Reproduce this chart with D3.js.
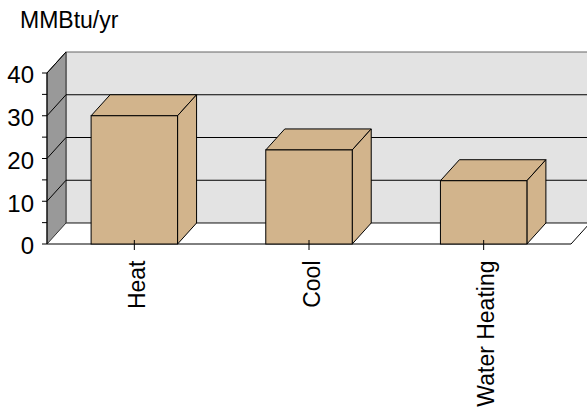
<!DOCTYPE html>
<html>
<head>
<meta charset="utf-8">
<script src="https://cdn.jsdelivr.net/npm/d3@7"></script>
<style>
body { margin: 0; background: #fff; }
svg { display: block; }
text { font-family: "Liberation Sans", Arial, sans-serif; fill: #000; }
</style>
</head>
<body>
<div id="chart"></div>
<script>
const categories = ['Heat', 'Cool', 'Water Heating'];
const values = [30, 22, 14.8];
const yTicks = [0, 10, 20, 30, 40];
const yMinorTicks = [5, 15, 25, 35];
const yLabel = 'MMBtu/yr';

const width = 587, height = 409;
// front plane of the chart and the 3d depth offset
const plotLeft = 47, plotRight = 571, plotBottom = 244, plotTop = 73;
const dx = 19, dy = -21;

const svg = d3.select('#chart').append('svg')
    .attr('width', width)
    .attr('height', height);

const y = d3.scaleLinear().domain([0, 40]).range([plotBottom, plotTop]);
const x = d3.scaleBand().domain(categories).range([plotLeft, plotRight]).paddingInner(0.505).paddingOuter(0.2525);

function poly(points, fill, stroke) {
  return svg.append('path')
      .attr('d', d3.line()(points) + 'Z')
      .style('fill', fill)
      .style('stroke', stroke || '#000')
      .style('stroke-width', 1);
}

// back wall
svg.append('rect')
    .attr('x', plotLeft + dx).attr('y', y(40) + dy)
    .attr('width', width - plotLeft - dx + 2).attr('height', y(0) - y(40))
    .style('fill', '#e3e3e3').style('stroke', '#666');

// floor
poly([[plotLeft, plotBottom], [plotLeft + dx, plotBottom + dy], [width + 2, plotBottom + dy], [plotRight, plotBottom]], '#fff', 'none');
svg.append('line')
    .attr('x1', plotLeft + dx).attr('x2', width + 2)
    .attr('y1', plotBottom + dy).attr('y2', plotBottom + dy)
    .style('stroke', '#666').style('stroke-width', 1.5);
svg.append('path')
    .attr('d', d3.line()([[plotLeft, plotBottom], [plotRight, plotBottom], [plotRight + dx, plotBottom + dy]]))
    .style('fill', 'none').style('stroke', '#000');

// side wall
poly([[plotLeft, plotBottom], [plotLeft, y(40)], [plotLeft + dx, y(40) + dy], [plotLeft + dx, plotBottom + dy]], '#999', '#333');

// gridlines, across the back wall and down the side wall
yTicks.slice(1, -1).forEach(t => {
  svg.append('path')
      .attr('d', d3.line()([[plotLeft, y(t)], [plotLeft + dx, y(t) + dy], [width + 2, y(t) + dy]]))
      .style('fill', 'none')
      .style('stroke', '#000');
});
svg.append('line')
    .attr('x1', plotLeft).attr('x2', plotLeft + dx)
    .attr('y1', y(40)).attr('y2', y(40) + dy)
    .style('stroke', '#000');

// bars
categories.forEach((c, i) => {
  const x0 = x(c), x1 = x0 + x.bandwidth(), yv = y(values[i]);
  poly([[x0, yv], [x0 + dx, yv + dy], [x1 + dx, yv + dy], [x1, yv]], '#d2b48c');
  poly([[x1, yv], [x1 + dx, yv + dy], [x1 + dx, plotBottom + dy], [x1, plotBottom]], '#d2b48c');
  svg.append('rect')
      .attr('x', x0).attr('y', yv)
      .attr('width', x.bandwidth()).attr('height', plotBottom - yv)
      .style('fill', '#d2b48c')
      .style('stroke', '#000');
});

// y axis
svg.append('line')
    .attr('x1', plotLeft).attr('x2', plotLeft)
    .attr('y1', y(0)).attr('y2', y(40))
    .style('stroke', '#000');
yTicks.concat(yMinorTicks).forEach(t => {
  svg.append('line')
      .attr('x1', plotLeft - 5).attr('x2', plotLeft)
      .attr('y1', y(t)).attr('y2', y(t))
      .style('stroke', '#000');
});
svg.selectAll('.ytick')
    .data(yTicks)
    .enter().append('text')
    .attr('class', 'ytick')
    .attr('x', 34)
    .attr('y', d => y(d) + 2)
    .attr('dy', '0.35em')
    .attr('text-anchor', 'end')
    .style('font-size', '24px')
    .text(d => d);

// category ticks and labels
categories.forEach(c => {
  const cx = x(c) + x.bandwidth() / 2;
  svg.append('line')
      .attr('x1', cx).attr('x2', cx)
      .attr('y1', plotBottom - 4).attr('y2', plotBottom + 6)
      .style('stroke', '#000');
  svg.append('text')
      .attr('transform', `translate(${cx + 10.5},260.5) rotate(-90)`)
      .attr('text-anchor', 'end')
      .style('font-size', '23px')
      .text(c);
});

svg.append('text')
    .attr('x', 20).attr('y', 28)
    .style('font-size', '23px')
    .text(yLabel);
</script>
</body>
</html>
